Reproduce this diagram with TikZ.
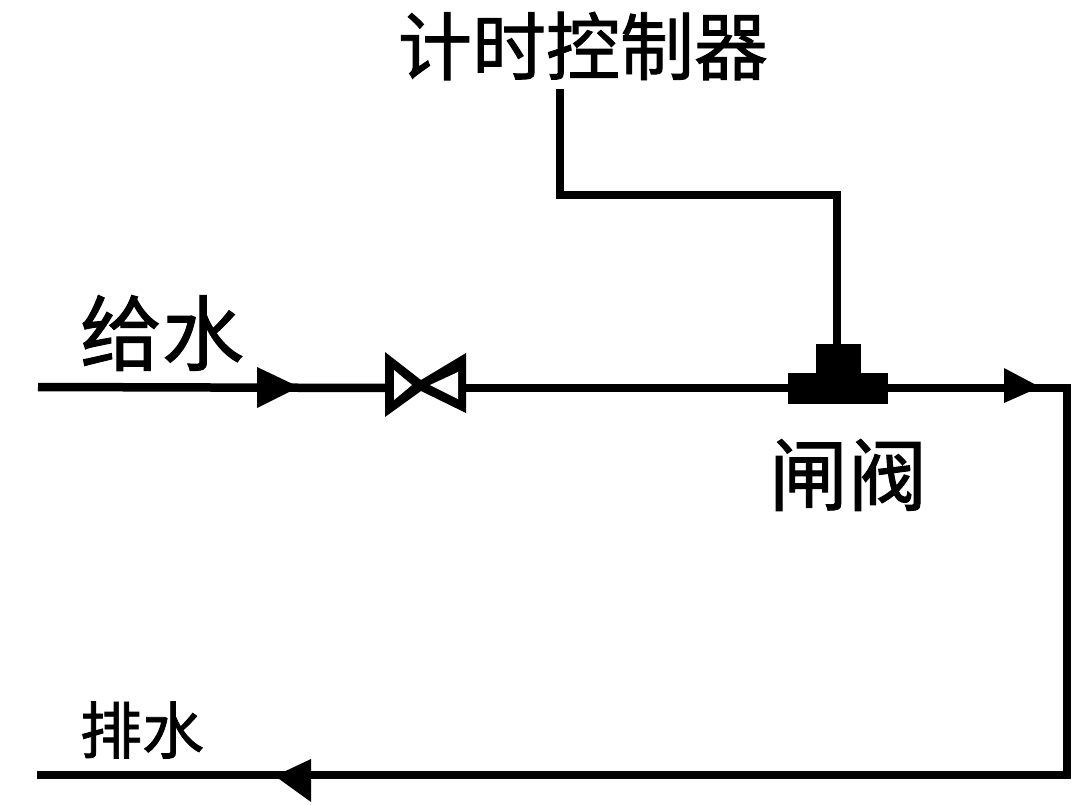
\documentclass[tikz,border=0pt]{standalone}
\usepackage{fontspec}
\newfontfamily\cjk[FakeBold=1.2]{Noto Sans CJK SC}
\tikzset{
  pipe/.style={line width=8.5pt,black,line join=miter},
  lbl/.style={inner sep=0pt,anchor=center,text=black},
  tri/.style={fill=black,draw=none}
}
\begin{document}
\begin{tikzpicture}[x=1pt,y=-1pt]
\useasboundingbox (0,0) rectangle (1088,804);
\fill[white] (0,0) rectangle (1088,804);
\node[lbl,font=\cjk\fontsize{74}{74}\selectfont] (ctrl) at (583,46) {计时控制器};
\node[lbl,font=\cjk\fontsize{82}{82}\selectfont] (feed) at (162,333) {给水};
\node[lbl,font=\cjk\fontsize{79}{79}\selectfont] (gate) at (848,475) {闸阀};
\node[lbl,font=\cjk\fontsize{62}{62}\selectfont] (drain) at (142,730) {排水};
\coordinate (in) at (38,387);
\coordinate (v1l) at (388,388);
\coordinate (v1r) at (464,388);
\coordinate (gl) at (788,388);
\coordinate (gr) at (888,388);
\coordinate (corner1) at (1067,388);
\coordinate (corner2) at (1067,775);
\coordinate (out) at (37,775);
\coordinate (ctop) at (560,89);
\coordinate (c1) at (560,195);
\coordinate (c2) at (837,195);
\coordinate (gt) at (837,345);
\draw[pipe] (in) -- (v1l);
\draw[pipe] (v1r) -- (gl);
\draw[pipe] (gr) -- (corner1) -- (corner2) -- (out);
\draw[pipe] (ctop) -- (c1) -- (c2) -- (gt);
\fill[tri] (257,367) -- (299,387) -- (257,408) -- cycle;
\fill[tri] (1004,368) -- (1040,387) -- (1004,403) -- cycle;
\fill[tri] (311,759) -- (275,776) -- (311,802) -- cycle;
\fill[black] (788,373) rectangle (888,404);
\fill[black] (816,344) rectangle (861,374);
\fill[black] (385,352) -- (421,380) -- (466,353) -- (466,413) -- (421,391) -- (385,417) -- cycle;
\fill[white] (394,370) -- (412,385) -- (394,400) -- cycle;
\fill[white] (458,372) -- (430,385) -- (458,399) -- cycle;
\end{tikzpicture}
\end{document}
